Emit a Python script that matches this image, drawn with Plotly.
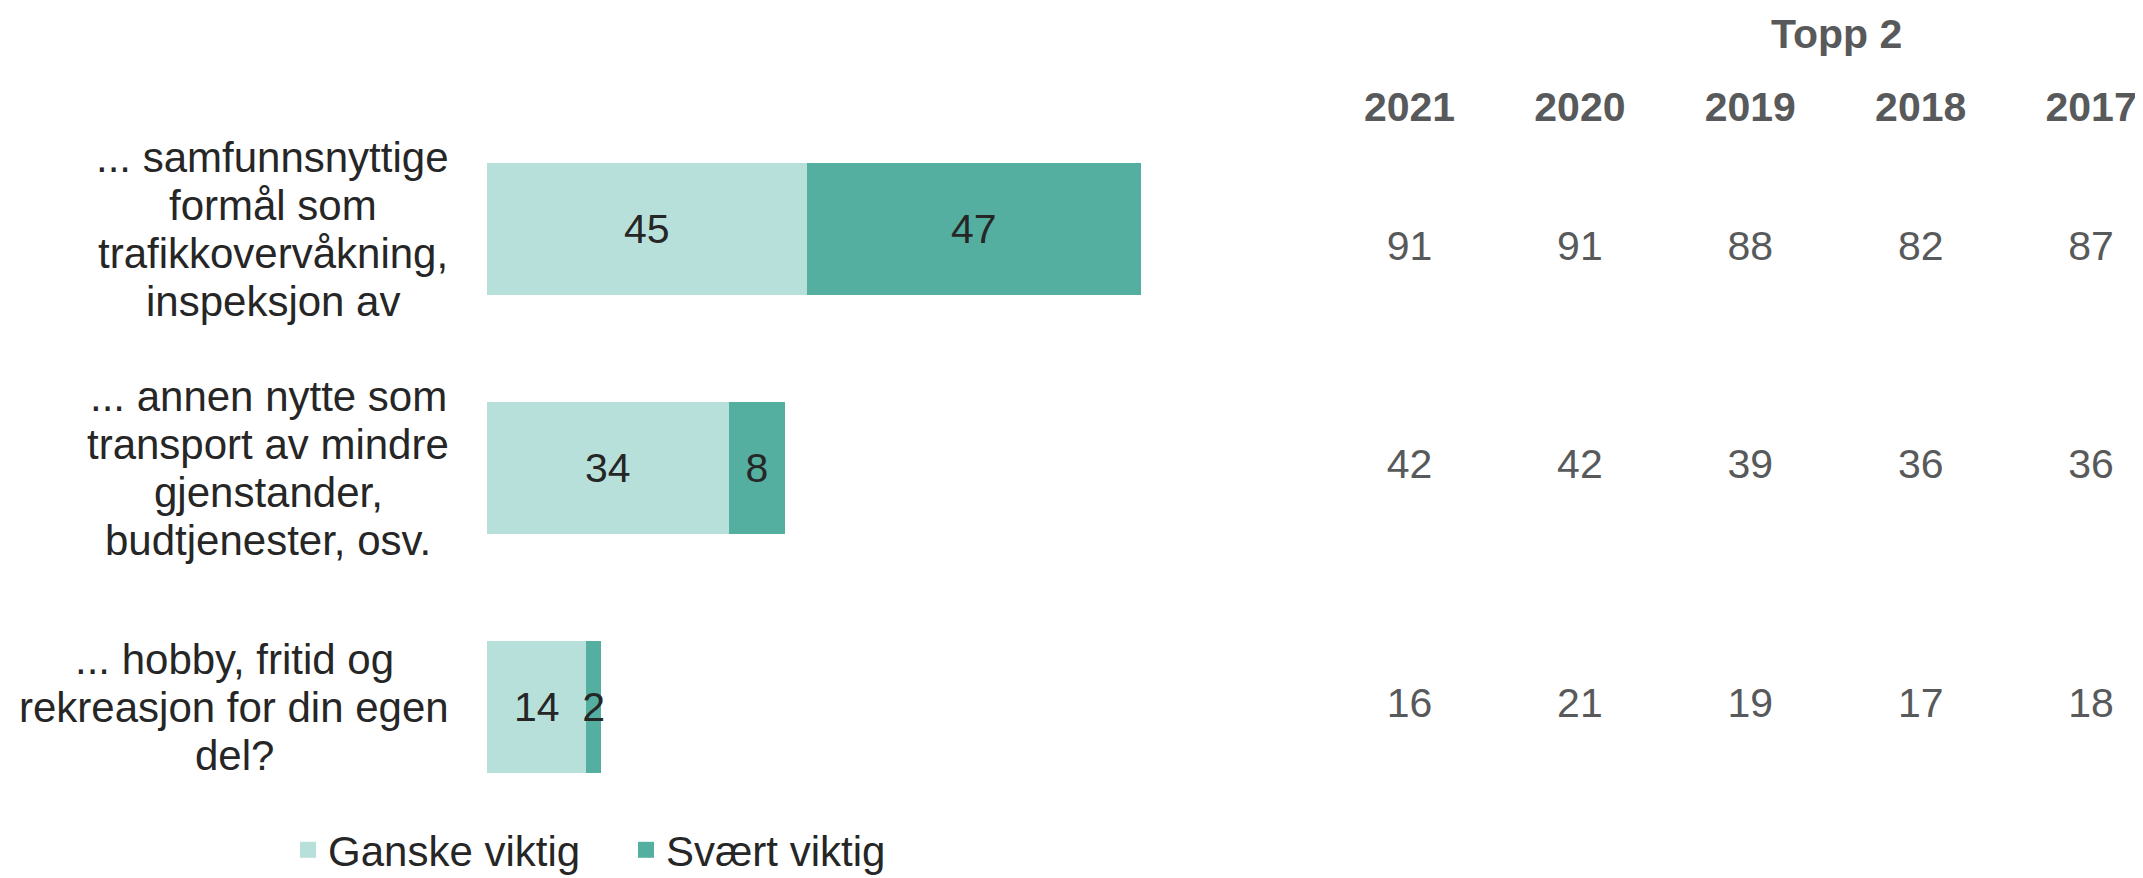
import plotly.graph_objects as go

# categories (bar rows, top to bottom)
categories = [
    "... samfunnsnyttige<br>formål som<br>trafikkovervåkning,<br>inspeksjon av",
    "... annen nytte som<br>transport av mindre<br>gjenstander,<br>budtjenester, osv.",
    "... hobby, fritid og<br>rekreasjon for din egen<br>del?",
]
row_keys = ["samfunn", "annen", "hobby"]

ganske_viktig = [45, 34, 14]
svaert_viktig = [47, 8, 2]

years = ["2021", "2020", "2019", "2018", "2017"]
topp2 = [
    [91, 91, 88, 82, 87],
    [42, 42, 39, 36, 36],
    [16, 21, 19, 17, 18],
]

LIGHT = "#b7e0db"
DARK = "#54afa1"
TXT = "#262626"
GRAY = "#58595b"
FONT = "Liberation Sans, Arial, sans-serif"

# Arial / Liberation Sans advance widths (1/1000 em) for the label text
ADV = {" ": 278, ".": 278, ",": 278, "?": 556, "a": 556, "b": 556, "d": 556,
       "e": 556, "f": 278, "g": 556, "h": 556, "i": 222, "j": 222, "k": 500,
       "l": 222, "m": 833, "n": 556, "o": 556, "p": 556, "r": 333, "s": 500,
       "t": 278, "u": 556, "v": 500, "y": 500, "å": 556}


def text_width(s, size):
    return sum(ADV.get(c, 556) for c in s) * size / 1000


# the page body adds an 8px margin, so the figure is drawn 8px smaller
OFF = 8
W, H = 2143 - OFF, 878 - OFF
L, R, T, B = 487 - OFF, 0, 130 - OFF, 52
plot_w = W - L - R
plot_h = H - T - B

fig = go.Figure()

fig.add_trace(go.Bar(
    y=row_keys, x=ganske_viktig, orientation="h", name="Ganske viktig",
    marker=dict(color=LIGHT, line=dict(width=0)),
    text=ganske_viktig, textposition="inside", insidetextanchor="middle",
    textfont=dict(size=41, color=TXT, family=FONT),
    showlegend=False, hoverinfo="x",
))
fig.add_trace(go.Bar(
    y=row_keys, x=svaert_viktig, orientation="h", name="Svært viktig",
    marker=dict(color=DARK, line=dict(width=0)),
    text=svaert_viktig, textposition="inside", insidetextanchor="middle",
    textfont=dict(size=41, color=TXT, family=FONT),
    showlegend=False, hoverinfo="x",
))

# legend entries with square swatches
for name, col in [("Ganske viktig", LIGHT), ("Svært viktig", DARK)]:
    fig.add_trace(go.Scatter(
        x=[None], y=[None], mode="markers", name=name,
        marker=dict(symbol="square", size=16, color=col),
    ))

# "Topp 2" table on a second x axis
tx, ty, tt, tp = [], [], [], []
for i, key in enumerate(row_keys):
    for j, yr in enumerate(years):
        tx.append(yr)
        ty.append(key)
        tt.append(str(topp2[i][j]))
        tp.append("bottom center" if i == 0 else "middle center")

fig.add_trace(go.Scatter(
    x=tx, y=ty, text=tt, mode="text", textposition=tp,
    textfont=dict(size=41, color=GRAY, family=FONT),
    xaxis="x2", yaxis="y", showlegend=False, hoverinfo="skip",
))

# row labels: one annotation per line (tighter line spacing), lines centred
# on the block, block right-aligned next to the bars
label_size = 42
line_h = 48
right_edge = 449 - OFF
annotations = []
for key, label in zip(row_keys, categories):
    lines = label.split("<br>")
    n = len(lines)
    block_w = max(text_width(s, label_size) for s in lines)
    cx = right_edge - block_w / 2
    for k, line in enumerate(lines):
        annotations.append(dict(
            text=line, xref="paper", yref="y", x=(cx - L) / plot_w, y=key,
            yshift=((n - 1) / 2 - k) * line_h,
            xanchor="center", yanchor="middle", showarrow=False,
            font=dict(size=label_size, color=TXT, family=FONT),
        ))
annotations.append(dict(
    text="Topp 2", xref="paper", yref="paper",
    x=(1836 - OFF - L) / plot_w, y=1 + (T - (34 - OFF)) / plot_h,
    xanchor="center", yanchor="middle", showarrow=False,
    font=dict(size=41, color=GRAY, family=FONT, weight="bold"),
))

px_per_unit = 7.105
xr = 100
col_w = 170.4
first_col = 1409.5 - OFF
x2_left = first_col - col_w / 2
x2_hi = (W - R - first_col) / col_w

row_px = 239
row0 = 229 - OFF
fig.update_layout(
    width=W, height=H,
    margin=dict(l=L, r=R, t=T, b=B, autoexpand=False),
    paper_bgcolor="white", plot_bgcolor="white",
    barmode="stack", bargap=0.448,
    font=dict(family=FONT, color=TXT),
    uniformtext=dict(minsize=41, mode="show"),
    xaxis=dict(domain=[0, xr * px_per_unit / plot_w], range=[0, xr],
               visible=False, fixedrange=True),
    xaxis2=dict(domain=[(x2_left - L) / plot_w, 1], type="category",
                categoryorder="array", categoryarray=years,
                range=[-0.5, x2_hi], side="top", anchor="y",
                showgrid=False, zeroline=False, showline=False,
                ticks="", ticklabelstandoff=0,
                tickfont=dict(size=41, color=GRAY, family=FONT, weight="bold")),
    yaxis=dict(type="category", categoryorder="array", categoryarray=row_keys,
               range=[(H - B - row0) / row_px, -(row0 - T) / row_px],
               showticklabels=False, showgrid=False, zeroline=False),
    legend=dict(orientation="h", traceorder="normal",
                x=(280 - L) / plot_w, xanchor="left",
                y=-((850 - OFF) - (H - B)) / plot_h, yanchor="middle",
                font=dict(size=42, color=TXT, family=FONT),
                entrywidth=293, bgcolor="rgba(0,0,0,0)"),
    annotations=annotations,
)

fig.write_html("out.html")
